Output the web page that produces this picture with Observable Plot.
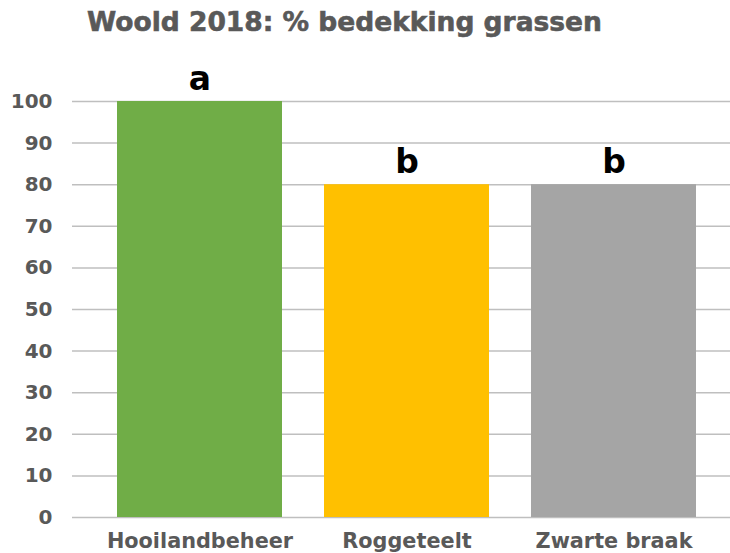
<!DOCTYPE html>
<html>
<head>
<meta charset="utf-8">
<script src="https://cdn.jsdelivr.net/npm/d3@7"></script>
<script src="https://cdn.jsdelivr.net/npm/@observablehq/plot@0.6"></script>
<style>
  html, body { margin: 0; padding: 0; background: white; }
  #wrap { position: relative; width: 730px; height: 553px; overflow: hidden; }
  #title { position: absolute; left: 87px; top: 9px; font-family: "DejaVu Sans", sans-serif; font-weight: bold; font-size: 26.5px; line-height: 26.5px; color: #595959; white-space: nowrap; -webkit-text-stroke: 0.6px #595959; }
</style>
</head>
<body>
<div id="wrap">
  <div id="title">Woold 2018: % bedekking grassen</div>
</div>
<script>
const categories = ["Hooilandbeheer", "Roggeteelt", "Zwarte braak"];
const values = [100, 80, 80];
const letters = ["a", "b", "b"];
const colors = ["#70AD47", "#FFC000", "#A5A5A5"];
const yTicks = [0, 10, 20, 30, 40, 50, 60, 70, 80, 90, 100];

const data = categories.map((c, i) => ({cat: c, value: values[i], letter: letters[i]}));

const chart = Plot.plot({
  width: 730,
  height: 553,
  marginLeft: 72,
  marginRight: 0,
  marginTop: 101,
  marginBottom: 36,
  style: {fontFamily: "'DejaVu Sans', sans-serif", fontWeight: "bold", color: "#595959", background: "white"},
  x: {domain: categories, paddingInner: 0.2048, paddingOuter: 0.188, align: 0.564, label: null},
  y: {domain: [0, 100], label: null},
  color: {domain: categories, range: colors},
  marks: [
    Plot.gridY(yTicks, {stroke: "#bfbfbf", strokeOpacity: 1, strokeWidth: 1.5}),
    Plot.barY(data, {x: "cat", y: "value", fill: "cat"}),
    Plot.axisY(yTicks, {tickSize: 0, tickPadding: 20, fontSize: 20, fontWeight: "bold", label: null, stroke: "#595959", strokeWidth: 0.6}),
    Plot.axisX({tickSize: 0, tickPadding: 16, fontSize: 20.8, fontWeight: "bold", label: null, stroke: "#595959", strokeWidth: 0.6}),
    Plot.text(data, {x: "cat", y: "value", text: "letter", lineAnchor: "bottom", dy: -12, fontSize: 33, fontWeight: "bold", fill: "black"})
  ]
});
document.getElementById("wrap").appendChild(chart);
</script>
</body>
</html>
